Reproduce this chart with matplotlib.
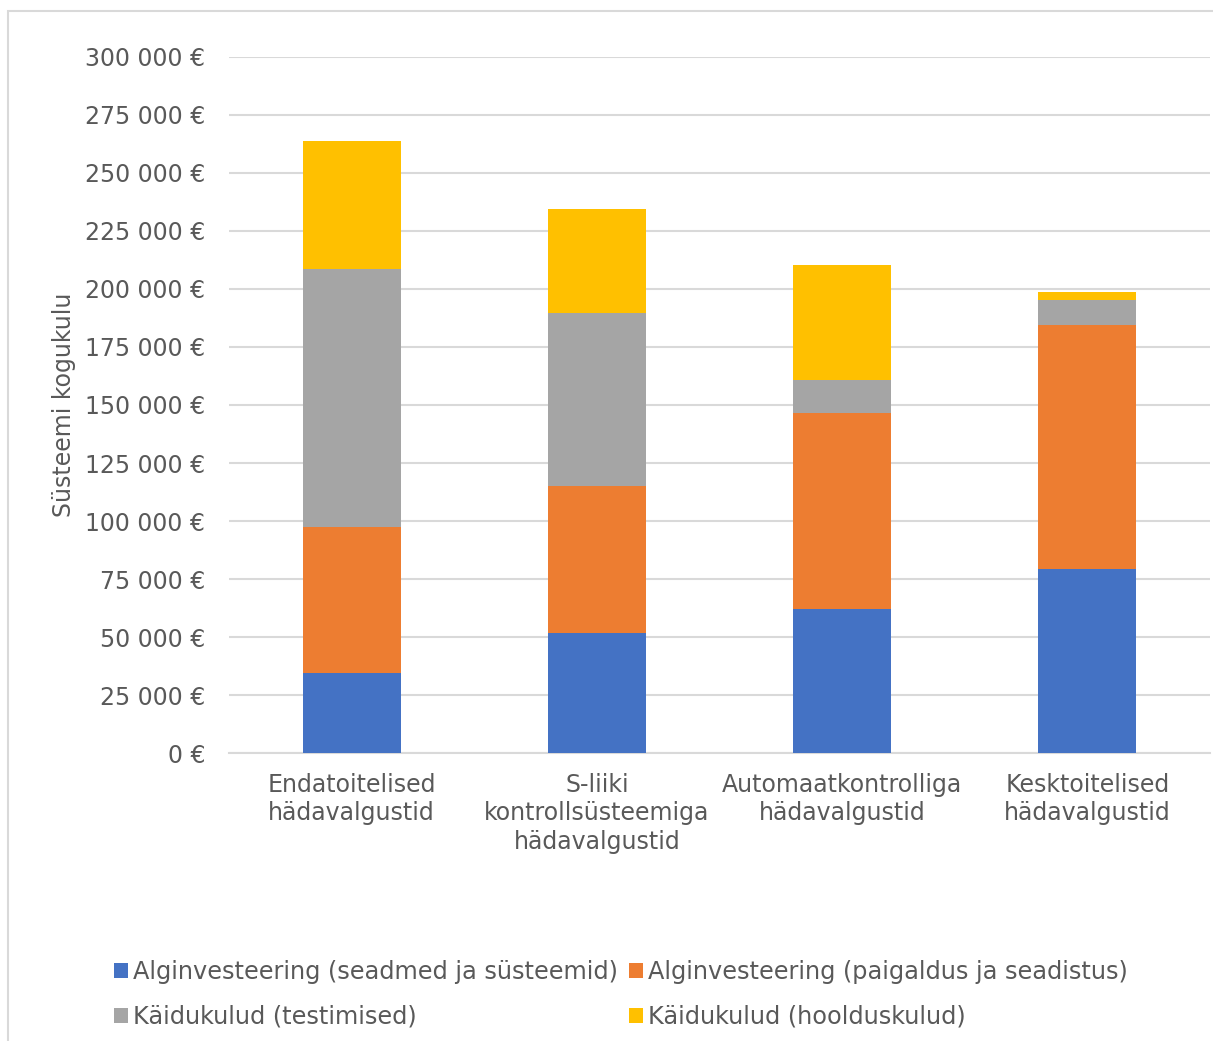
import matplotlib
matplotlib.use("Agg")
import matplotlib.pyplot as plt
from matplotlib.patches import Rectangle, Patch
from matplotlib.ticker import FuncFormatter, MultipleLocator

plt.rcParams['font.family'] = ['DejaVu Sans']

categories = [
    "Endatoitelised\nhädavalgustid",
    "S-liiki\nkontrollsüsteemiga\nhädavalgustid",
    "Automaatkontrolliga\nhädavalgustid",
    "Kesktoitelised\nhädavalgustid",
]
series_names = [
    "Alginvesteering (seadmed ja süsteemid)",
    "Alginvesteering (paigaldus ja seadistus)",
    "Käidukulud (testimised)",
    "Käidukulud (hoolduskulud)",
]
equipment = [34500, 51800, 62000, 79200]
installation = [63000, 63200, 84400, 105100]
testing = [111100, 74800, 14500, 11000]
maintenance = [55000, 44700, 49500, 3500]
colors = ["#4472C4", "#ED7D31", "#A5A5A5", "#FFC000"]

text_color = "#595959"
grid_color = "#D9D9D9"

fig = plt.figure(figsize=(12.13, 10.41), dpi=100)
ax = fig.add_axes([229 / 1213, 1 - 753.3 / 1041, (1210 - 229) / 1213, (753.3 - 56.7) / 1041])

x = range(len(categories))
bottom = [0] * len(categories)
for vals, col, name in zip([equipment, installation, testing, maintenance], colors, series_names):
    ax.bar(x, vals, width=0.4, bottom=bottom, color=col, label=name, zorder=3)
    bottom = [b + v for b, v in zip(bottom, vals)]

ax.set_xlim(-0.5, len(categories) - 0.5)
ax.set_ylim(0, 300000)
ax.yaxis.set_major_locator(MultipleLocator(25000))
ax.yaxis.set_major_formatter(FuncFormatter(lambda v, p: f"{int(v):,} €".replace(",", " ")))
ax.grid(axis="y", color=grid_color, linewidth=1.5, zorder=0)
for s in ax.spines.values():
    s.set_visible(False)
ax.spines["bottom"].set_visible(True)
ax.spines["bottom"].set_color(grid_color)
ax.spines["bottom"].set_linewidth(1.5)
ax.tick_params(axis="both", length=0, labelsize=17, colors=text_color)
ax.tick_params(axis="y", pad=17)
ax.tick_params(axis="x", pad=14)
ax.set_xticks(list(x))
ax.set_xticklabels(categories, linespacing=1.25)
ax.set_ylabel("Süsteemi kogukulu", fontsize=17, color=text_color)
ax.yaxis.set_label_coords((76 - 229) / (1210 - 229), (753.3 - 405) / (753.3 - 56.7))

# chart frame
fig.add_artist(Rectangle((8 / 1213, -0.05), 1.1, 1 - 11 / 1041 + 0.05,
                         transform=fig.transFigure, fill=False,
                         edgecolor=grid_color, linewidth=1.5))

# legend filled row by row: matplotlib fills columns first, so interleave
order = [0, 2, 1, 3]
handles = [Patch(facecolor=colors[i], edgecolor="none") for i in order]
labels = [series_names[i] for i in order]
fig.legend(handles, labels, loc="upper left", ncol=2,
           bbox_to_anchor=(92 / 1213, 1 - 938 / 1041),
           frameon=False, fontsize=17.3, labelcolor=text_color,
           handlelength=0.6, handleheight=0.6, handletextpad=0.2,
           columnspacing=0.45, labelspacing=0.88)

fig.savefig("out.png", dpi=100)
